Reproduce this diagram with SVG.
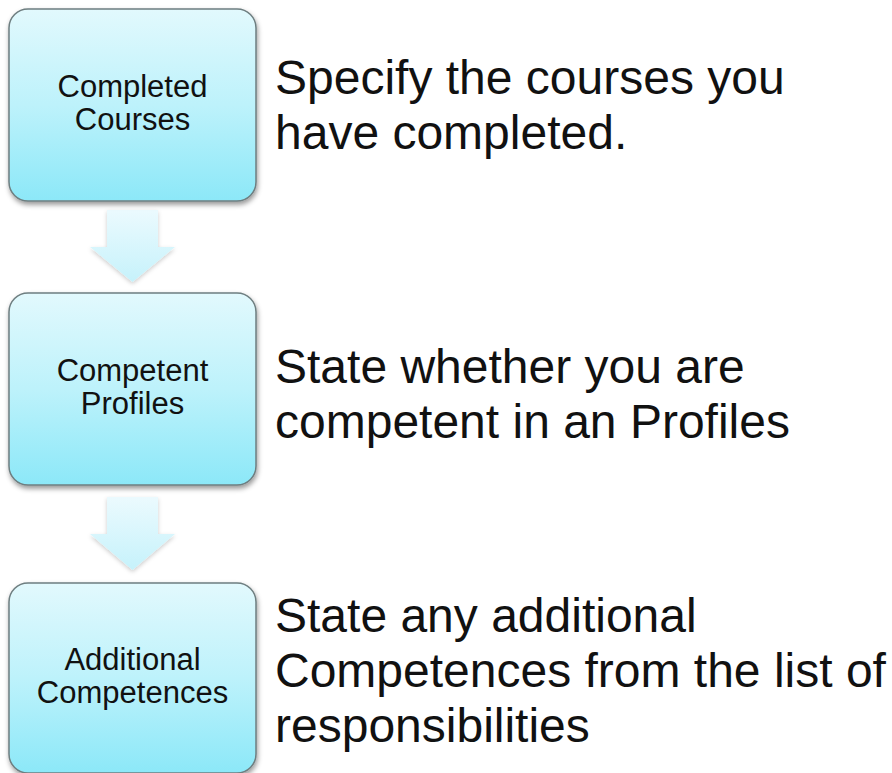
<svg xmlns="http://www.w3.org/2000/svg" width="892" height="773" viewBox="0 0 892 773">
<defs>
<linearGradient id="boxg" x1="0" y1="0" x2="0" y2="1">
<stop offset="0" stop-color="#e2f9fd"/>
<stop offset="0.5" stop-color="#bdf2fb"/>
<stop offset="1" stop-color="#8ce8f8"/>
</linearGradient>
<linearGradient id="arrg" x1="0" y1="0" x2="0" y2="1">
<stop offset="0" stop-color="#ebfafe"/>
<stop offset="1" stop-color="#c6f2fb"/>
</linearGradient>
<filter id="sh" x="-10%" y="-10%" width="125%" height="125%">
<feDropShadow dx="1" dy="3" stdDeviation="2.5" flood-color="#000" flood-opacity="0.4"/>
</filter>
<filter id="ash" x="-20%" y="-20%" width="140%" height="140%">
<feDropShadow dx="0" dy="2" stdDeviation="2" flood-color="#000" flood-opacity="0.2"/>
</filter>
</defs>
<style>
.box{fill:url(#boxg);stroke:#6e7e80;stroke-width:1.5;filter:url(#sh)}
.arr{fill:url(#arrg);filter:url(#ash)}
.bt{font-family:"Liberation Sans",Arial,sans-serif;font-size:31px;fill:#111;text-anchor:middle}
.big{font-family:"Liberation Sans",Arial,sans-serif;font-size:48px;fill:#111}
</style>
<rect width="892" height="773" fill="#fff"/>
<g id="connectors">
<path class="arr" d="M107,210 H158 V247 H175 L132.5,282 L90,247 H107 Z"/>
<path class="arr" d="M107,497 H158 V534 H175 L132.5,570 L90,534 H107 Z"/>
</g>
<g id="node1">
<rect class="box" x="9" y="9" width="247" height="192" rx="19"/>
<text class="bt" x="132.5" y="97">Completed</text>
<text class="bt" x="132.5" y="130">Courses</text>
</g>
<g id="node2">
<rect class="box" x="9" y="293" width="247" height="192" rx="19"/>
<text class="bt" x="132.5" y="381">Competent</text>
<text class="bt" x="132.5" y="414">Profiles</text>
</g>
<g id="node3">
<rect class="box" x="9" y="583" width="247" height="190" rx="19"/>
<text class="bt" x="132.5" y="670">Additional</text>
<text class="bt" x="132.5" y="703">Competences</text>
</g>
<g id="desc1">
<text class="big" x="275" y="94">Specify the courses you</text>
<text class="big" x="275" y="149">have completed.</text>
</g>
<g id="desc2">
<text class="big" x="275" y="383">State whether you are</text>
<text class="big" x="275" y="438">competent in an Profiles</text>
</g>
<g id="desc3">
<text class="big" x="275" y="632">State any additional</text>
<text class="big" x="275" y="687">Competences from the list of</text>
<text class="big" x="275" y="742">responsibilities</text>
</g>
</svg>
